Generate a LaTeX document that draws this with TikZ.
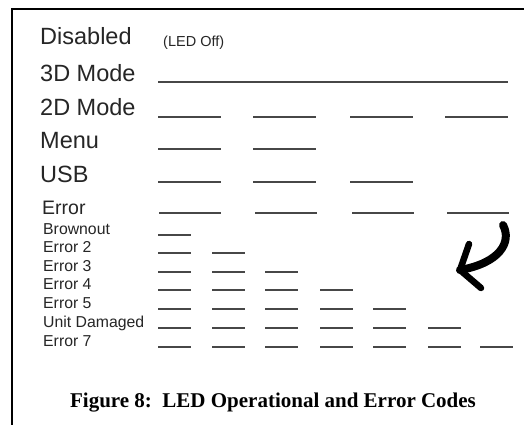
\documentclass[tikz,border=0pt]{standalone}
\usepackage{fontspec}
\setmainfont{Liberation Sans}
\newfontfamily\capfont{Liberation Serif}
\begin{document}
\begin{tikzpicture}[x=1pt,y=-1pt,
  biglabel/.style={anchor=base west,inner sep=0pt,text=black!85,font=\fontsize{23.5}{24}\selectfont},
  midlabel/.style={anchor=base west,inner sep=0pt,text=black!85,font=\fontsize{19.5}{21}\selectfont},
  smalllabel/.style={anchor=base west,inner sep=0pt,text=black!85,font=\fontsize{15.8}{17}\selectfont},
  seg/.style={line width=2.2pt,draw=black!72},
  frameline/.style={line width=2.6pt,draw=black},
  bolt/.style={line width=8pt,line cap=round,line join=round,draw=black}]
\useasboundingbox[fill=white] (0,0) rectangle (524,425);
% frame
\draw[frameline] (12,425) -- (12,9) -- (524,9);
% big labels
\node[biglabel] (dis) at (40,45) {Disabled};
\node[anchor=base west,inner sep=0pt,text=black!85,font=\fontsize{14.5}{15}\selectfont] (off) at (163,47) {(LED Off)};
\node[biglabel] (m3d) at (40,82) {3D Mode};
\node[biglabel] (m2d) at (40,115) {2D Mode};
\node[biglabel] (menu) at (40,148) {Menu};
\node[biglabel] (usb) at (40,182) {USB};
\node[midlabel] (err) at (42,214) {Error};
% small labels
\node[smalllabel] (brown) at (43,234) {Brownout};
\node[smalllabel] (e2) at (43,252) {Error 2};
\node[smalllabel] (e3) at (43,271) {Error 3};
\node[smalllabel] (e4) at (43,289) {Error 4};
\node[smalllabel] (e5) at (43,308) {Error 5};
\node[smalllabel] (ud) at (43,327) {Unit Damaged};
\node[smalllabel] (e7) at (43,346) {Error 7};
% long segments
\draw[seg] (158,82) -- (508,82);
\foreach \x in {158,253,350,445} \draw[seg] (\x,117) -- ++(63,0);
\foreach \x in {158,253} \draw[seg] (\x,149) -- ++(63,0);
\foreach \x in {158,253,350} \draw[seg] (\x,182) -- ++(63,0);
\foreach \x in {159,255,352,447} \draw[seg] (\x,213) -- ++(62,0);
% short segments
\foreach \n/\y in {1/235,2/253,3/272,4/290,5/309,6/328,7/347}{
  \foreach \x [count=\i] in {158,212,265,320,373,428,480}{
    \ifnum\i>\n\else\draw[seg] (\x,\y) -- ++(33,0);\fi
  }
}
% curved arrow
\coordinate (a0) at (503,225);
\coordinate (tip) at (460,270);
\coordinate (armA) at (469,244);
\coordinate (armB) at (481,288);
\draw[bolt] (a0) .. controls (512,242) and (500,263) .. (tip);
\draw[bolt,line width=6.5pt] (armA) -- (tip) -- (armB);
% caption
\node[anchor=base,inner sep=0pt,font=\capfont\bfseries\fontsize{21}{22}\selectfont] (cap) at (273,407) {Figure 8:\ \ LED Operational and Error Codes};
\end{tikzpicture}
\end{document}
